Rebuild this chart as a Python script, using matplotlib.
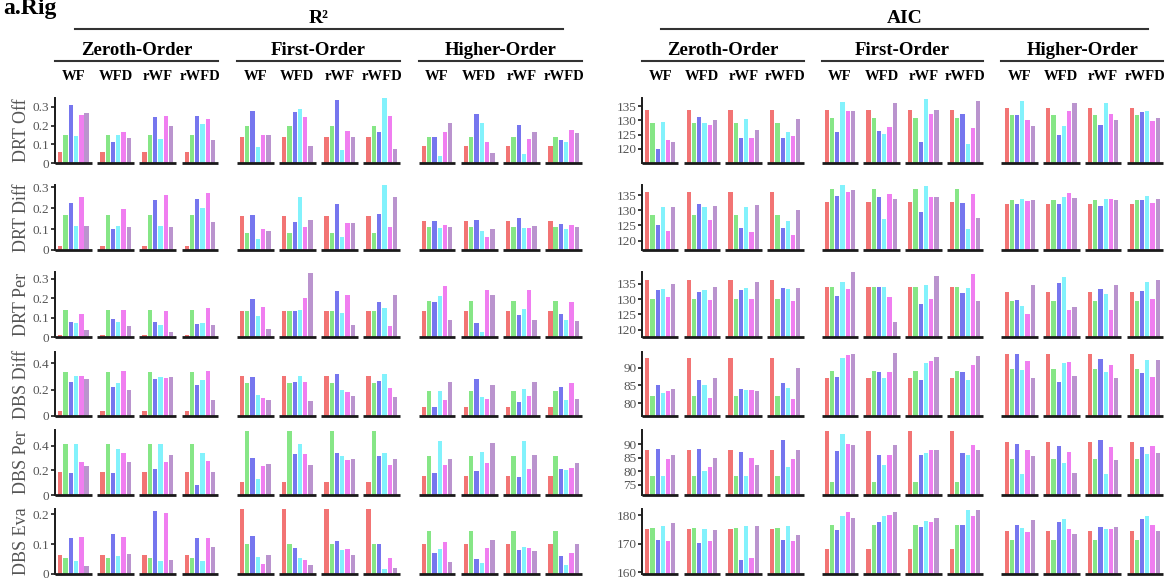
import matplotlib
matplotlib.use("Agg")
import matplotlib.pyplot as plt
from matplotlib.lines import Line2D
import numpy as np

plt.rcParams['font.family'] = ['Liberation Serif', 'DejaVu Serif']

W, H = 1175, 582
fig = plt.figure(figsize=(W / 100, H / 100), dpi=100)

rows = ["DRT Off", "DRT Diff", "DRT Per", "DBS Diff", "DBS Per", "DBS Eva"]
groups = ["Zeroth-Order", "First-Order", "Higher-Order"]
subgroups = ["WF", "WFD", "rWF", "rWFD"]
colors = ["#F27474", "#86E686", "#7676EE", "#82F2FC", "#F07EF0", "#BA94CE"]

# ---- R^2 values: 12 clusters (3 orders x WF/WFD/rWF/rWFD), 6 models each ----
r2_drt_off = [
    [0.059, 0.152, 0.309, 0.146, 0.259, 0.270],
    [0.059, 0.152, 0.114, 0.152, 0.166, 0.134],
    [0.059, 0.152, 0.248, 0.129, 0.252, 0.200],
    [0.059, 0.152, 0.252, 0.211, 0.238, 0.125],
    [0.141, 0.196, 0.279, 0.086, 0.152, 0.148],
    [0.141, 0.196, 0.271, 0.289, 0.246, 0.093],
    [0.141, 0.196, 0.336, 0.068, 0.170, 0.139],
    [0.141, 0.196, 0.168, 0.348, 0.254, 0.075],
    [0.089, 0.137, 0.137, 0.039, 0.166, 0.212],
    [0.089, 0.137, 0.262, 0.212, 0.110, 0.055],
    [0.089, 0.137, 0.205, 0.048, 0.129, 0.168],
    [0.089, 0.137, 0.121, 0.112, 0.179, 0.159],
]
r2_drt_diff = [
    [0.019, 0.167, 0.223, 0.115, 0.255, 0.115],
    [0.019, 0.167, 0.100, 0.115, 0.196, 0.112],
    [0.019, 0.167, 0.238, 0.115, 0.262, 0.108],
    [0.019, 0.167, 0.242, 0.198, 0.274, 0.134],
    [0.160, 0.083, 0.169, 0.054, 0.102, 0.091],
    [0.160, 0.083, 0.134, 0.255, 0.112, 0.145],
    [0.160, 0.083, 0.218, 0.064, 0.130, 0.128],
    [0.160, 0.083, 0.172, 0.308, 0.112, 0.252],
    [0.137, 0.110, 0.139, 0.104, 0.118, 0.112],
    [0.137, 0.110, 0.142, 0.089, 0.064, 0.100],
    [0.137, 0.110, 0.152, 0.104, 0.104, 0.113],
    [0.137, 0.110, 0.125, 0.100, 0.120, 0.110],
]
r2_drt_per = [
    [0.009, 0.138, 0.076, 0.071, 0.121, 0.038],
    [0.009, 0.138, 0.091, 0.078, 0.141, 0.055],
    [0.009, 0.138, 0.076, 0.064, 0.133, 0.024],
    [0.009, 0.138, 0.069, 0.071, 0.150, 0.062],
    [0.134, 0.134, 0.197, 0.109, 0.153, 0.041],
    [0.134, 0.134, 0.134, 0.138, 0.200, 0.331],
    [0.134, 0.134, 0.238, 0.122, 0.217, 0.064],
    [0.134, 0.134, 0.178, 0.148, 0.055, 0.219],
    [0.134, 0.186, 0.179, 0.212, 0.262, 0.088],
    [0.134, 0.186, 0.074, 0.026, 0.240, 0.217],
    [0.134, 0.186, 0.114, 0.145, 0.241, 0.088],
    [0.134, 0.186, 0.120, 0.090, 0.180, 0.085],
]
r2_dbs_diff = [
    [0.040, 0.332, 0.261, 0.306, 0.301, 0.278],
    [0.040, 0.332, 0.223, 0.253, 0.339, 0.200],
    [0.040, 0.332, 0.281, 0.294, 0.291, 0.296],
    [0.040, 0.332, 0.238, 0.273, 0.344, 0.124],
    [0.304, 0.253, 0.294, 0.159, 0.134, 0.122],
    [0.304, 0.253, 0.258, 0.304, 0.258, 0.114],
    [0.304, 0.253, 0.316, 0.197, 0.180, 0.152],
    [0.304, 0.253, 0.263, 0.316, 0.213, 0.147],
    [0.068, 0.192, 0.066, 0.192, 0.124, 0.256],
    [0.068, 0.192, 0.281, 0.144, 0.132, 0.238],
    [0.068, 0.192, 0.109, 0.203, 0.152, 0.256],
    [0.068, 0.192, 0.218, 0.120, 0.250, 0.130],
]
r2_dbs_per = [
    [0.189, 0.419, 0.178, 0.419, 0.273, 0.235],
    [0.189, 0.419, 0.178, 0.373, 0.343, 0.270],
    [0.189, 0.419, 0.211, 0.419, 0.270, 0.330],
    [0.189, 0.419, 0.081, 0.343, 0.276, 0.189],
    [0.105, 0.524, 0.303, 0.132, 0.238, 0.249],
    [0.105, 0.524, 0.335, 0.416, 0.332, 0.246],
    [0.105, 0.524, 0.340, 0.322, 0.289, 0.295],
    [0.105, 0.524, 0.314, 0.340, 0.243, 0.297],
    [0.159, 0.316, 0.181, 0.438, 0.246, 0.292],
    [0.159, 0.316, 0.197, 0.354, 0.257, 0.424],
    [0.159, 0.316, 0.146, 0.438, 0.208, 0.330],
    [0.159, 0.316, 0.210, 0.200, 0.220, 0.260],
]
r2_dbs_eva = [
    [0.062, 0.053, 0.119, 0.042, 0.123, 0.028],
    [0.062, 0.053, 0.133, 0.059, 0.123, 0.066],
    [0.062, 0.053, 0.211, 0.042, 0.203, 0.048],
    [0.062, 0.053, 0.119, 0.042, 0.120, 0.091],
    [0.217, 0.099, 0.126, 0.056, 0.032, 0.064],
    [0.217, 0.099, 0.087, 0.054, 0.046, 0.030],
    [0.217, 0.099, 0.109, 0.081, 0.084, 0.064],
    [0.217, 0.099, 0.099, 0.017, 0.053, 0.019],
    [0.099, 0.144, 0.069, 0.083, 0.106, 0.041],
    [0.099, 0.144, 0.049, 0.038, 0.088, 0.112],
    [0.099, 0.144, 0.079, 0.091, 0.086, 0.076],
    [0.099, 0.144, 0.060, 0.030, 0.070, 0.100],
]

# ---- AIC values ----
aic_drt_off = [
    [133.8, 129.1, 120.0, 129.3, 123.1, 122.5],
    [133.8, 129.1, 131.2, 129.2, 128.4, 130.2],
    [133.8, 129.1, 123.7, 130.4, 123.7, 126.5],
    [133.8, 129.1, 123.7, 125.9, 124.4, 130.6],
    [133.8, 130.7, 126.0, 136.4, 133.2, 133.2],
    [133.8, 130.7, 126.3, 125.2, 127.8, 136.2],
    [133.8, 130.7, 122.3, 137.4, 132.2, 133.8],
    [133.8, 130.7, 132.3, 121.6, 127.4, 136.9],
    [134.5, 132.0, 132.0, 136.9, 130.2, 127.9],
    [134.5, 132.0, 124.8, 127.9, 133.2, 136.0],
    [134.5, 132.0, 128.4, 136.1, 132.3, 130.2],
    [134.5, 132.0, 132.8, 133.2, 129.8, 130.8],
]
aic_drt_diff = [
    [135.9, 128.4, 125.1, 131.2, 123.2, 131.2],
    [135.9, 128.4, 132.1, 131.1, 126.8, 131.4],
    [135.9, 128.4, 124.2, 131.2, 122.8, 131.6],
    [135.9, 128.4, 124.0, 126.6, 122.0, 130.2],
    [132.8, 136.9, 134.8, 138.2, 136.0, 136.6],
    [132.8, 136.9, 134.3, 127.1, 135.2, 133.7],
    [132.8, 136.9, 129.4, 137.9, 134.4, 134.4],
    [132.8, 136.9, 132.3, 123.9, 135.3, 127.4],
    [132.0, 133.3, 132.0, 133.8, 133.1, 133.3],
    [132.0, 133.3, 131.9, 134.4, 135.7, 134.0],
    [132.0, 133.3, 131.3, 133.8, 133.8, 133.3],
    [132.0, 133.3, 133.3, 134.8, 132.4, 133.6],
]
aic_drt_per = [
    [136.3, 129.9, 133.1, 133.2, 130.8, 134.9],
    [136.3, 129.9, 132.4, 133.0, 129.8, 134.1],
    [136.3, 129.9, 133.0, 133.8, 130.1, 135.6],
    [136.3, 129.9, 133.5, 133.2, 129.4, 133.8],
    [134.1, 134.1, 130.9, 135.6, 133.2, 138.8],
    [134.1, 134.1, 134.1, 133.9, 130.6, 122.5],
    [134.1, 134.1, 128.5, 134.7, 129.9, 137.6],
    [134.1, 134.1, 131.9, 133.6, 138.2, 129.5],
    [132.2, 129.4, 129.8, 127.9, 125.0, 134.7],
    [132.2, 129.4, 135.3, 137.4, 126.3, 127.5],
    [132.2, 129.4, 133.2, 131.6, 126.3, 134.6],
    [132.2, 129.4, 132.8, 135.7, 130.1, 136.4],
]
aic_dbs_diff = [
    [92.6, 81.9, 85.0, 82.9, 83.4, 84.1],
    [92.6, 81.9, 86.5, 85.1, 81.6, 87.2],
    [92.6, 81.9, 84.1, 83.6, 83.8, 83.4],
    [92.6, 81.9, 85.8, 84.4, 81.3, 89.9],
    [87.0, 89.1, 87.4, 92.6, 93.5, 93.9],
    [87.0, 89.1, 88.9, 87.1, 88.9, 94.1],
    [87.0, 89.1, 86.6, 91.2, 91.9, 93.0],
    [87.0, 89.1, 88.7, 86.4, 90.7, 93.2],
    [93.7, 89.5, 93.9, 89.4, 91.8, 87.0],
    [93.7, 89.5, 86.1, 91.2, 91.6, 87.7],
    [93.7, 89.5, 92.5, 88.9, 90.8, 87.0],
    [93.7, 89.5, 88.4, 92.1, 87.4, 92.2],
]
aic_dbs_per = [
    [87.9, 78.2, 88.2, 78.2, 84.6, 86.1],
    [87.9, 78.2, 88.3, 80.2, 81.7, 84.9],
    [87.9, 78.2, 87.1, 78.2, 84.9, 82.2],
    [87.9, 78.2, 91.6, 81.6, 84.5, 87.7],
    [94.8, 76.0, 87.3, 93.8, 90.0, 89.5],
    [94.8, 76.0, 85.9, 82.2, 85.9, 89.8],
    [94.8, 76.0, 85.9, 86.7, 87.9, 87.7],
    [94.8, 76.0, 86.8, 85.9, 89.8, 87.7],
    [90.7, 84.6, 90.0, 79.0, 87.7, 85.6],
    [90.7, 84.6, 89.4, 83.0, 87.2, 79.5],
    [90.7, 84.6, 91.5, 79.0, 89.1, 84.3],
    [90.7, 84.6, 88.9, 86.5, 89.4, 86.8],
]
aic_dbs_eva = [
    [175.1, 175.6, 171.4, 176.3, 170.9, 177.2],
    [175.1, 175.6, 170.2, 175.2, 170.8, 174.9],
    [175.1, 175.6, 164.4, 176.3, 165.0, 176.0],
    [175.1, 175.6, 171.2, 176.3, 171.0, 173.1],
    [168.1, 176.6, 174.8, 179.5, 180.9, 179.0],
    [168.1, 176.6, 177.6, 179.5, 180.0, 181.2],
    [168.1, 176.6, 175.9, 177.8, 177.6, 179.0],
    [168.1, 176.6, 176.6, 181.9, 179.7, 181.7],
    [174.5, 171.3, 176.5, 175.6, 174.0, 178.3],
    [174.5, 171.3, 177.7, 178.5, 175.2, 173.5],
    [174.5, 171.3, 175.9, 175.0, 175.2, 175.9],
    [174.5, 171.3, 178.5, 179.5, 176.6, 174.5],
]

r2_data = [r2_drt_off, r2_drt_diff, r2_drt_per, r2_dbs_diff, r2_dbs_per, r2_dbs_eva]
aic_data = [aic_drt_off, aic_drt_diff, aic_drt_per, aic_dbs_diff, aic_dbs_per, aic_dbs_eva]

r2_ylims = [(0, 0.348), (0, 0.31), (0, 0.335), (0, 0.485), (0, 0.53), (0, 0.217)]
r2_ticks = [[0, 0.1, 0.2, 0.3]] * 3 + [[0, 0.2, 0.4]] * 2 + [[0, 0.1, 0.2]]
aic_ylims = [(115.0, 137.9), (116.9, 138.3), (117.6, 138.9),
             (76.4, 94.4), (71.2, 95.2), (159.4, 182.1)]
aic_ticks = [[120, 125, 130, 135]] * 3 + [[80, 85, 90], [75, 80, 85, 90], [160, 170, 180]]

# ---- layout (pixels) ----
row_bottom = [163, 250, 337, 416, 495, 574]
row_top = [98, 185, 272, 352, 430, 509]
GROUP_GAP = 0.31
HALF = 0.4375
BAR_STEP = 0.125
BAR_W = 0.102
n_clusters = len(groups) * len(subgroups)
centers = np.array([c + GROUP_GAP * (c // 4) for c in range(n_clusters)])
XLIM = (centers[0] - HALF, centers[-1] + HALF)


def add_axes_px(left, top, right, bottom):
    return fig.add_axes([left / W, 1 - bottom / H, (right - left) / W, (bottom - top) / H])


def fmt(v):
    return "0" if v == 0 else ("%g" % v)


def draw_panel(data, ylims, ticks, left, right, labels):
    for r in range(len(rows)):
        ax = add_axes_px(left, row_top[r], right, row_bottom[r])
        ymin, ymax = ylims[r]
        vals = np.array(data[r])
        for k in range(6):
            xs = centers + (k - 2.5) * BAR_STEP
            ax.bar(xs, vals[:, k] - ymin, bottom=ymin, width=BAR_W,
                   color=colors[k], linewidth=0, zorder=2)
        for c in centers:
            ax.plot([c - HALF, c + HALF], [ymin, ymin], color="#1a1a1a",
                    lw=2.0, solid_capstyle="butt", clip_on=False, zorder=3)
        ax.set_xlim(*XLIM)
        ax.set_ylim(ymin, ymax)
        for s in ["top", "right", "bottom"]:
            ax.spines[s].set_visible(False)
        ax.spines["left"].set_linewidth(1.4)
        ax.spines["left"].set_color("#1a1a1a")
        ax.set_xticks([])
        ax.set_yticks(ticks[r])
        ax.set_yticklabels([fmt(t) for t in ticks[r]])
        ax.tick_params(axis="y", direction="out", length=3, width=1.2,
                       color="#1a1a1a", labelsize=9.5, labelcolor="#555555", pad=1)
        ax.patch.set_alpha(0)
        if labels:
            yc = (row_top[r] + row_bottom[r]) / 2
            fig.text(21 / W, 1 - yc / H, rows[r], rotation=90, ha="center",
                     va="center", fontsize=13, color="#555555")


def hline_px(x0, x1, y, lw=1.5):
    fig.add_artist(Line2D([x0 / W, x1 / W], [1 - y / H, 1 - y / H],
                          color="#333333", lw=lw, transform=fig.transFigure))


def headers(left, right, title, title_line):
    px_per = (right - left) / (XLIM[1] - XLIM[0])
    tx = lambda v: left + (v - XLIM[0]) * px_per
    fig.text(((title_line[0] + title_line[1]) / 2) / W, 1 - 23 / H, title,
             ha="center", va="baseline", fontsize=14, fontweight="bold")
    hline_px(title_line[0], title_line[1], 28.5)
    for g, name in enumerate(groups):
        c0 = centers[g * 4] - HALF
        c1 = centers[g * 4 + 3] + HALF
        fig.text(((tx(c0) + tx(c1)) / 2) / W, 1 - 55 / H, name,
                 ha="center", va="baseline", fontsize=13.5, fontweight="bold")
        hline_px(tx(c0), tx(c1), 61)
        for s, sub in enumerate(subgroups):
            fig.text(tx(centers[g * 4 + s]) / W, 1 - 80 / H, sub,
                     ha="center", va="baseline", fontsize=10.5, fontweight="bold")


draw_panel(r2_data, r2_ylims, r2_ticks, 55, 582, True)
draw_panel(aic_data, aic_ylims, aic_ticks, 642, 1163, False)
headers(55, 582, "R\u00b2", (75, 563))
headers(642, 1163, "AIC", (661, 1148))

fig.text(3 / W, 1 - 14 / H, "a.Rig", ha="left", va="baseline",
         fontsize=17, fontweight="bold")

fig.savefig("out.png", dpi=100)
